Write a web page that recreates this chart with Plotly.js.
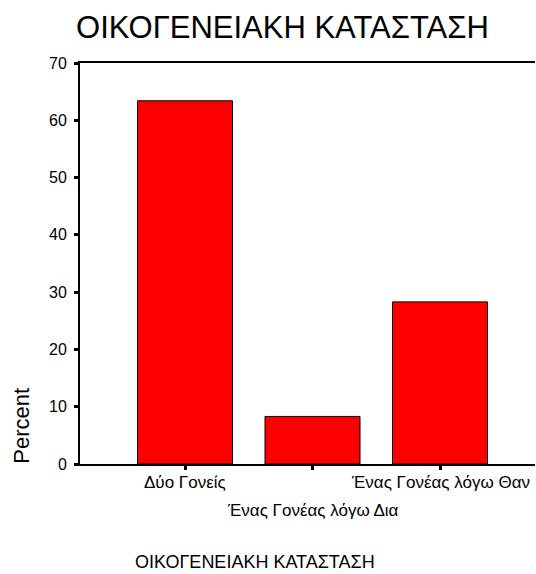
<!DOCTYPE html>
<html>
<head>
<meta charset="utf-8">
<script src="https://cdn.plot.ly/plotly-3.0.1.min.js"></script>
<style>html,body{margin:0;padding:0;background:#fff;}</style>
</head>
<body>
<div id="chart" style="width:536px;height:574px;"></div>
<script>
// Data
const categories = ["Δύο Γονείς", "Ένας Γονέας λόγω Δια", "Ένας Γονέας λόγω Θαν"];
const percents = [63.4, 8.3, 28.3];
const labelRows = [0, 1, 0];
const yTicks = [0, 10, 20, 30, 40, 50, 60, 70];
const chartTitle = "ΟΙΚΟΓΕΝΕΙΑΚΗ ΚΑΤΑΣΤΑΣΗ";
const xTitle = "ΟΙΚΟΓΕΝΕΙΑΚΗ ΚΑΤΑΣΤΑΣΗ";
const yTitle = "Percent";

const xIdx = categories.map((c, i) => i);
const FONT = "Arial, 'Liberation Sans', sans-serif";

const trace = {
  type: "bar",
  x: xIdx,
  y: percents,
  width: 0.745,
  marker: { color: "#ff0000", line: { color: "#000000", width: 1 } },
  hoverinfo: "skip"
};

const annotations = categories.map((c, i) => ({
  text: c,
  x: i, xref: "x",
  y: 0, yref: "paper",
  xanchor: "center", yanchor: "middle",
  yshift: labelRows[i] === 0 ? -18 : -46,
  showarrow: false,
  font: { family: FONT, size: 17, color: "#000" }
}));

annotations.push({
  text: yTitle,
  x: -0.1275, xref: "paper",
  y: 0.0955, yref: "paper",
  xanchor: "center", yanchor: "middle",
  textangle: -90,
  showarrow: false,
  font: { family: FONT, size: 22, color: "#000" }
});

annotations.push({
  text: xTitle,
  x: 0.1165, xref: "paper",
  y: 0, yref: "paper",
  xanchor: "left", yanchor: "middle",
  yshift: -98,
  showarrow: false,
  font: { family: FONT, size: 18, color: "#000" }
});

const layout = {
  width: 536, height: 574,
  margin: { l: 80, r: 1, t: 63, b: 110, pad: 0 },
  paper_bgcolor: "#fff", plot_bgcolor: "#fff",
  showlegend: false,
  title: {
    text: chartTitle,
    font: { family: FONT, size: 31, color: "#000" },
    x: 0.527, xref: "container", xanchor: "center",
    y: 1 - 27 / 574, yref: "container", yanchor: "middle"
  },
  xaxis: {
    range: [-0.8235, 2.745],
    tickvals: xIdx,
    showticklabels: false,
    ticks: "outside", ticklen: 4, tickwidth: 3, tickcolor: "#000",
    showline: true, linecolor: "#000", linewidth: 2, mirror: true,
    showgrid: false, zeroline: false, fixedrange: true
  },
  yaxis: {
    range: [0, 70],
    tickvals: yTicks,
    ticks: "outside", ticklen: 4, tickwidth: 3, tickcolor: "#000",
    ticklabelstandoff: 4,
    tickfont: { family: FONT, size: 16, color: "#000" },
    showline: true, linecolor: "#000", linewidth: 2, mirror: false,
    showgrid: false, zeroline: false, fixedrange: true
  },
  annotations: annotations
};

Plotly.newPlot("chart", [trace], layout, { displayModeBar: false, staticPlot: true });
</script>
</body>
</html>
